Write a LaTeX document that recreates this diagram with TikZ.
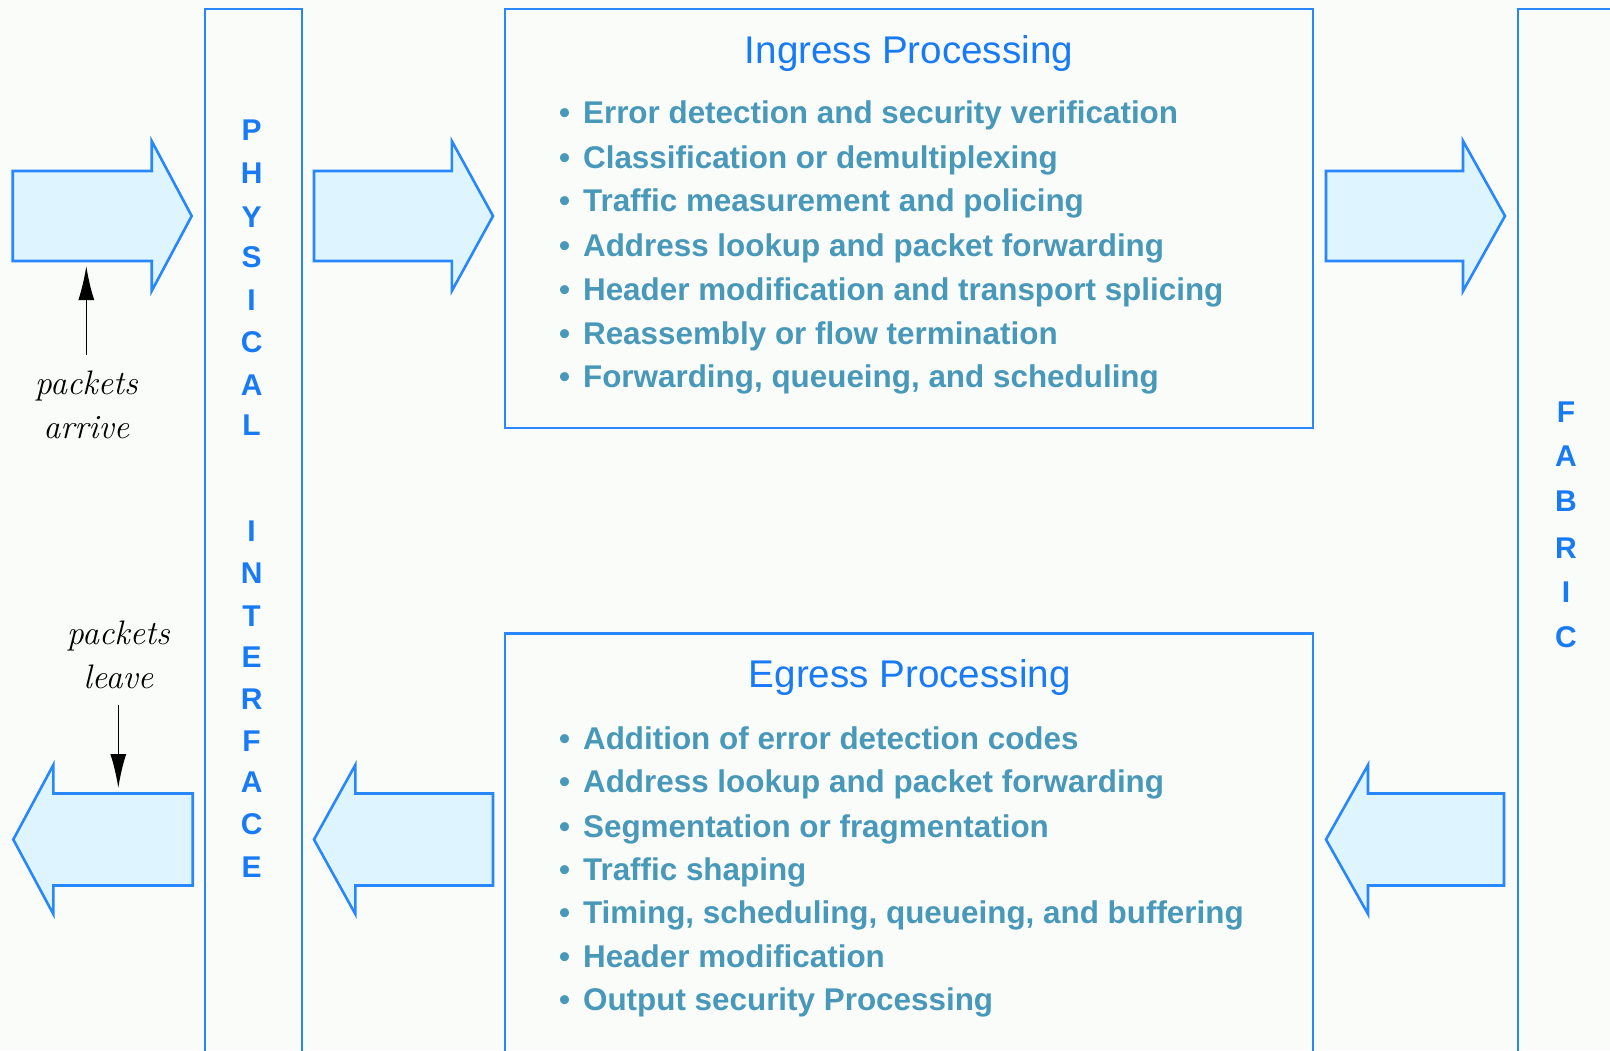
\documentclass[tikz,border=0pt]{standalone}
\usepackage{fontspec}
\newfontfamily\arialf{Liberation Sans}
\usetikzlibrary{arrows.meta}
\definecolor{boxblue}{RGB}{40,135,250}
\definecolor{titleblue}{RGB}{25,122,245}
\definecolor{tealc}{RGB}{72,152,186}
\definecolor{fillc}{RGB}{222,245,255}
\definecolor{bgc}{RGB}{250,252,250}
\newcommand\blockarr[6]{\draw[blockarrow] (#1,#4-#5) -- (#2,#4-#5) -- (#2,#4-#6) -- (#3,#4) -- (#2,#4+#6) -- (#2,#4+#5) -- (#1,#4+#5) -- cycle;}
\begin{document}
\begin{tikzpicture}[x=0.5pt,y=-0.5pt,
  boxline/.style={draw=boxblue,line width=1.1pt},
  blockarrow/.style={draw=boxblue,fill=fillc,line width=1.3pt},
  ttl/.style={font=\arialf\fontsize{19.3}{23}\selectfont,text=titleblue,inner sep=0,anchor=base},
  item/.style={font=\arialf\bfseries\fontsize{15.7}{19}\selectfont,text=tealc,inner sep=0,anchor=base west},
  bul/.style={font=\arialf\bfseries\fontsize{15.7}{19}\selectfont,text=tealc,inner sep=0,anchor=base},
  vlet/.style={font=\arialf\bfseries\fontsize{15}{18}\selectfont,text=titleblue,inner sep=0},
  lab/.style={font=\fontsize{17}{22}\selectfont\itshape,align=center,inner sep=0},
  pkt/.style={draw=black,line width=0.8pt,-{Latex[length=17pt,width=8pt]}}]
\fill[bgc] (0,0) rectangle (1610,1050);
\useasboundingbox (0,0) rectangle (1610,1050);
\clip (0,0) rectangle (1610,1050);
% boxes
\draw[boxline] (205,9.3) rectangle (301.7,1080);
\draw[boxline] (505,9.3) rectangle (1313,428);
\draw[boxline] (505,633.5) rectangle (1313,1080);
\draw[boxline] (1517.6,9.3) rectangle (1700,1080);
% block arrows
\blockarr{12.7}{151.7}{191.7}{216}{45}{75}
\blockarr{314}{451.8}{493}{216}{45}{75}
\blockarr{1326}{1463}{1505}{216}{45}{75}
\blockarr{192.7}{53.3}{13.3}{839.5}{46}{74.5}
\blockarr{493}{355.3}{314}{839.5}{46}{74.5}
\blockarr{1504}{1368}{1326}{839.5}{46}{74.5}
% titles
\node[ttl] (ingtitle) at (909,63.3) {Ingress Processing};
\node[ttl] (egrtitle) at (909.7,687.6) {Egress Processing};
% bullets
\foreach \y in {123.5,168.6,211.7,256.9,300.1,344.2,387.3,749.8,792.9,837.1,880.2,923.3,967.5,1010.6}
  \node[bul] at (564.5,\y) {•};
% ingress items
\node[item] (i1) at (582.7,123.5) {Error detection and security verification};
\node[item] (i2) at (582.7,168.6) {Classification or demultiplexing};
\node[item] (i3) at (582.7,211.7) {Traffic measurement and policing};
\node[item] (i4) at (582.7,256.9) {Address lookup and packet forwarding};
\node[item] (i5) at (582.7,300.1) {Header modification and transport splicing};
\node[item] (i6) at (582.7,344.2) {Reassembly or flow termination};
\node[item] (i7) at (582.7,387.3) {Forwarding, queueing, and scheduling};
% egress items
\node[item] (e1) at (582.7,749.8) {Addition of error detection codes};
\node[item] (e2) at (582.7,792.9) {Address lookup and packet forwarding};
\node[item] (e3) at (582.7,837.1) {Segmentation or fragmentation};
\node[item] (e4) at (582.7,880.2) {Traffic shaping};
\node[item] (e5) at (582.7,923.3) {Timing, scheduling, queueing, and buffering};
\node[item] (e6) at (582.7,967.5) {Header modification};
\node[item] (e7) at (582.7,1010.6) {Output security Processing};
% vertical labels
\foreach \l/\y [count=\k] in {P/130.4,H/173.5,Y/216.7,S/256.7,I/299.8,C/341.9,A/385.1,L/425.1,I/530.9,N/573.0,T/616.1,E/657.2,R/699.3,F/741.4,A/782.4,C/824.5,E/867.6}
  \node[vlet] (phy\k) at (251.6,\y) {\l};
\foreach \l/\y [count=\k] in {F/411.7,A/455.9,B/501.1,R/548.3,I/592.5,C/637.6}
  \node[vlet] (fab\k) at (1565.9,\y) {\l};
% packet labels
\node[lab,outer ysep=8pt] (arrive) at (86.3,405) {packets\\arrive};
\node[lab,outer ysep=8pt] (leave) at (118.3,655) {packets\\leave};
\coordinate (arriveTip) at (86.3,266);
\coordinate (leaveTip) at (118.3,788);
\draw[pkt] (arrive.north) -- (arriveTip);
\draw[pkt] (leave.south) -- (leaveTip);
\end{tikzpicture}
\end{document}
